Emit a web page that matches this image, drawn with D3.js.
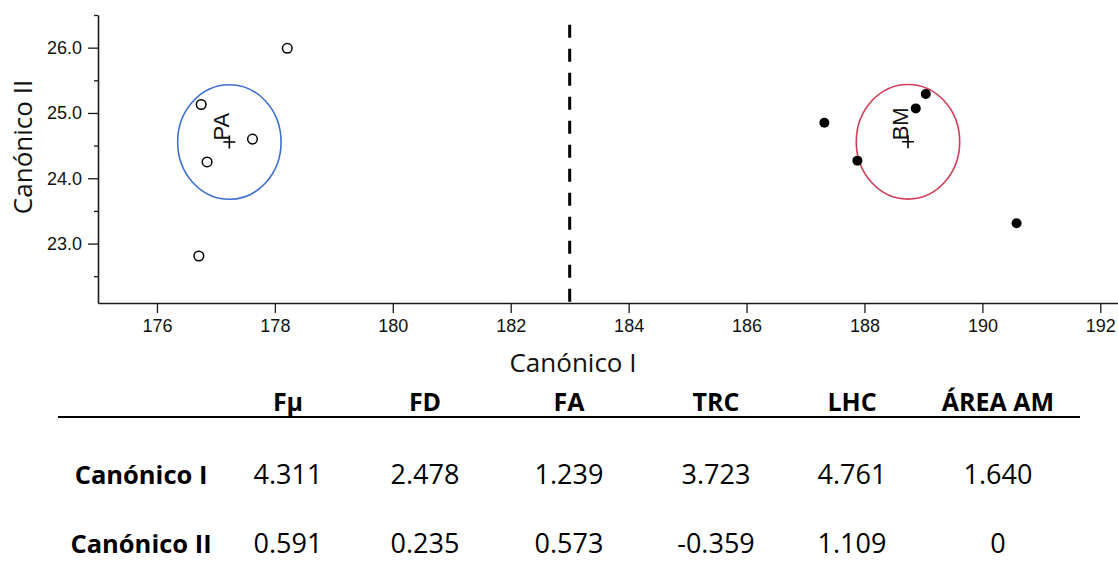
<!DOCTYPE html>
<html>
<head>
<meta charset="utf-8">
<script src="https://cdn.jsdelivr.net/npm/d3@7/dist/d3.min.js"></script>
<style>
  html, body { margin: 0; padding: 0; background: #fff; }
  svg { display: block; }
</style>
</head>
<body>
<svg id="chart" width="1118" height="561"></svg>
<script>
// Canonical discriminant scores for the two groups
const paScoreI  = [178.21, 176.75, 177.62, 176.85, 176.71];
const paScoreII = [25.99, 25.13, 24.60, 24.25, 22.81];
const bmScoreI  = [187.32, 187.88, 188.87, 189.04, 190.58];
const bmScoreII = [24.85, 24.27, 25.07, 25.29, 23.31];
const groupNames = ["PA", "BM"];
const confRadius = 0.877;      // 95% circle around each centroid (canonical units)
const boundaryI = 183;          // separating line on Canónico I

const xTicks = [176, 178, 180, 182, 184, 186, 188, 190, 192];
const yTicksMajor = [23.0, 24.0, 25.0, 26.0];
const yTicksMinor = [22.5, 23.5, 24.5, 25.5, 26.5];

// Standardised canonical coefficients table
const tableHeaders = ["Fμ", "FD", "FA", "TRC", "LHC", "ÁREA AM"];
const rowLabels = ["Canónico I", "Canónico II"];
const coefCanonicoI  = ["4.311", "2.478", "1.239", "3.723", "4.761", "1.640"];
const coefCanonicoII = ["0.591", "0.235", "0.573", "-0.359", "1.109", "0"];

const svg = d3.select("#chart");
const axisFont = "'Liberation Sans', Arial, Helvetica, sans-serif";
const textFont = "'Open Sans', 'Noto Sans', sans-serif";

const x = d3.scaleLinear().domain([175, 192.3]).range([98, 1118]);
const y = d3.scaleLinear().domain([22.09, 26.5]).range([303, 15]);

// ---- axes ----
svg.append("g")
  .attr("transform", `translate(0,${y(22.09)})`)
  .call(d3.axisBottom(x).tickValues(xTicks).tickFormat(d3.format("d"))
    .tickSize(10).tickSizeOuter(0).tickPadding(6));
svg.append("g")
  .attr("transform", `translate(${x(175)},0)`)
  .call(d3.axisLeft(y).tickValues(yTicksMajor).tickFormat(d3.format(".1f"))
    .tickSize(10).tickSizeOuter(0).tickPadding(6));
svg.append("g")
  .attr("transform", `translate(${x(175)},0)`)
  .call(d3.axisLeft(y).tickValues(yTicksMinor).tickFormat("").tickSize(4).tickSizeOuter(0))
  .select(".domain").remove();

svg.selectAll(".domain").attr("stroke", "#1a1a1a").attr("stroke-width", 1.6);
svg.selectAll(".tick line").attr("stroke", "#1a1a1a").attr("stroke-width", 1.3);
svg.selectAll(".tick text")
  .attr("font-family", axisFont).attr("font-size", 18).attr("fill", "#111");

// axis titles
svg.append("text")
  .attr("x", 573).attr("y", 372)
  .attr("text-anchor", "middle")
  .attr("font-family", textFont).attr("font-size", 26).attr("fill", "#111")
  .text("Canónico I");
svg.append("text")
  .attr("transform", "translate(32,147) rotate(-90)")
  .attr("text-anchor", "middle")
  .attr("font-family", textFont).attr("font-size", 26).attr("fill", "#111")
  .text("Canónico II");

// ---- dashed boundary ----
svg.append("line")
  .attr("x1", x(boundaryI)).attr("x2", x(boundaryI))
  .attr("y1", y(26.35)).attr("y2", y(22.09))
  .attr("stroke", "#000").attr("stroke-width", 3)
  .attr("stroke-dasharray", "13,11");

// ---- groups ----
const groups = [
  { name: groupNames[0], xs: paScoreI, ys: paScoreII, color: "#3d6fd4", filled: false },
  { name: groupNames[1], xs: bmScoreI, ys: bmScoreII, color: "#d43d57", filled: true }
];

groups.forEach(g => {
  const pts = g.xs.map((v, i) => [v, g.ys[i]]);
  const cx = d3.mean(g.xs), cy = d3.mean(g.ys);

  svg.append("ellipse")
    .attr("cx", x(cx)).attr("cy", y(cy))
    .attr("rx", x(cx + confRadius) - x(cx))
    .attr("ry", y(cy) - y(cy + confRadius))
    .attr("fill", "none").attr("stroke", g.color).attr("stroke-width", 1.6);

  svg.append("g").selectAll("circle").data(pts).join("circle")
    .attr("cx", d => x(d[0])).attr("cy", d => y(d[1]))
    .attr("r", g.filled ? 5 : 4.8)
    .attr("fill", g.filled ? "#000" : "#fff")
    .attr("stroke", "#000").attr("stroke-width", g.filled ? 0 : 1.5);

  // centroid marker
  const px = x(cx), py = y(cy);
  svg.append("path")
    .attr("d", `M${px - 6},${py}H${px + 6}M${px},${py - 6.5}V${py + 6.5}`)
    .attr("stroke", "#000").attr("stroke-width", 1.6);

  svg.append("text")
    .attr("transform", `translate(${px},${py - 1.5}) rotate(-90)`)
    .attr("font-family", axisFont).attr("font-size", 22).attr("fill", "#111")
    .text(g.name);
});

// ---- coefficients table ----
const colX = [288, 425, 569, 716, 852, 998];
const table = svg.append("g");

table.selectAll("text.hdr").data(tableHeaders).join("text")
  .attr("class", "hdr")
  .attr("x", (d, i) => colX[i]).attr("y", 411)
  .attr("text-anchor", "middle")
  .attr("font-family", textFont).attr("font-weight", 700).attr("font-size", 25).attr("fill", "#000")
  .text(d => d);

table.append("line")
  .attr("x1", 58).attr("x2", 1080).attr("y1", 417).attr("y2", 417)
  .attr("stroke", "#000").attr("stroke-width", 2.2);

const rows = [coefCanonicoI, coefCanonicoII];
const rowY = [484, 553];
rows.forEach((vals, r) => {
  table.append("text")
    .attr("x", 141).attr("y", rowY[r])
    .attr("text-anchor", "middle")
    .attr("font-family", textFont).attr("font-weight", 700).attr("font-size", 25.5).attr("fill", "#000")
    .text(rowLabels[r]);
  table.append("g").selectAll("text").data(vals).join("text")
    .attr("x", (d, i) => colX[i]).attr("y", rowY[r])
    .attr("text-anchor", "middle")
    .attr("font-family", textFont).attr("font-size", 27).attr("fill", "#000")
    .text(d => d);
});
</script>
</body>
</html>
